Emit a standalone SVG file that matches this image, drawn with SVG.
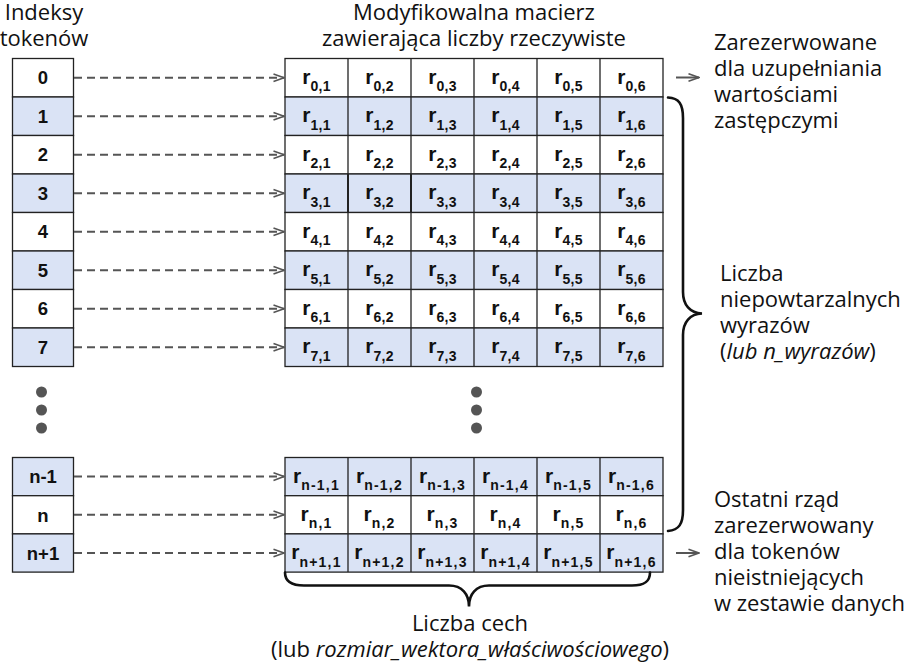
<svg xmlns="http://www.w3.org/2000/svg" width="905" height="662" viewBox="0 0 905 662">
<style>
.bg{fill:#ffffff}
.w{fill:#ffffff;stroke:#222;stroke-width:1.3}
.b{fill:#dae3f5;stroke:#222;stroke-width:1.3}
.sep{stroke:#222;stroke-width:1.3;fill:none}
.idx{font-family:"Liberation Sans",Arial,sans-serif;font-weight:bold;font-size:18.5px;fill:#111;text-anchor:middle}
.cell{font-family:"Liberation Sans",Arial,sans-serif;font-weight:bold;font-size:21px;fill:#111;text-anchor:middle}
.sub{font-size:14px;letter-spacing:0.3px}
.subn{font-size:14px;letter-spacing:1.2px}
.lbl{font-family:"Open Sans","Noto Sans",sans-serif;font-size:22px;fill:#111}
.mid{text-anchor:middle}
.dash{stroke:#555;stroke-width:2;stroke-dasharray:8 5;fill:none}
.solid{stroke:#555;stroke-width:2;fill:none}
.brace{stroke:#111;stroke-width:2.6;fill:none;stroke-linecap:round}
.dot{fill:#555}
</style>
<defs>
<marker id="ah" viewBox="0 0 12 10" refX="11" refY="5" markerWidth="12" markerHeight="10" markerUnits="userSpaceOnUse" orient="auto">
<path d="M0.5,1.2 L11,5 L0.5,8.8" fill="none" stroke="#555" stroke-width="1.6"/>
</marker>
</defs>
<rect class="bg" x="0" y="0" width="905" height="662"/>

<g id="headings">
<text class="lbl mid" x="44" y="20">Indeksy</text>
<text class="lbl mid" x="44" y="46">tokenów</text>
<text class="lbl mid" x="474" y="20">Modyfikowalna macierz</text>
<text class="lbl mid" x="474" y="46">zawierająca liczby rzeczywiste</text>
</g>

<g id="token-indices">
<g id="idx-0"><rect class="w" x="12.5" y="58.5" width="61" height="38.5"/><text class="idx" x="43" y="84.4">0</text></g>
<g id="idx-1"><rect class="b" x="12.5" y="97" width="61" height="38.5"/><text class="idx" x="43" y="122.9">1</text></g>
<g id="idx-2"><rect class="w" x="12.5" y="135.5" width="61" height="38.5"/><text class="idx" x="43" y="161.4">2</text></g>
<g id="idx-3"><rect class="b" x="12.5" y="174" width="61" height="38.5"/><text class="idx" x="43" y="199.9">3</text></g>
<g id="idx-4"><rect class="w" x="12.5" y="212.5" width="61" height="38.5"/><text class="idx" x="43" y="238.4">4</text></g>
<g id="idx-5"><rect class="b" x="12.5" y="251" width="61" height="38.5"/><text class="idx" x="43" y="276.9">5</text></g>
<g id="idx-6"><rect class="w" x="12.5" y="289.5" width="61" height="38.5"/><text class="idx" x="43" y="315.4">6</text></g>
<g id="idx-7"><rect class="b" x="12.5" y="328" width="61" height="38.5"/><text class="idx" x="43" y="353.9">7</text></g>
<g id="idx-n-1"><rect class="b" x="12.5" y="457.5" width="61" height="38.2"/><text class="idx" x="43" y="483.3">n-1</text></g>
<g id="idx-n"><rect class="w" x="12.5" y="495.7" width="61" height="38.2"/><text class="idx" x="43" y="521.5">n</text></g>
<g id="idx-n+1"><rect class="b" x="12.5" y="533.9" width="61" height="38.2"/><text class="idx" x="43" y="559.7">n+1</text></g>
</g>

<g id="dots">
<circle class="dot" cx="41.5" cy="392" r="5.5"/>
<circle class="dot" cx="41.5" cy="410" r="5.5"/>
<circle class="dot" cx="41.5" cy="428" r="5.5"/>
<circle class="dot" cx="476.5" cy="392" r="5.5"/>
<circle class="dot" cx="476.5" cy="410" r="5.5"/>
<circle class="dot" cx="476.5" cy="428" r="5.5"/>
</g>

<g id="matrix">
<g id="row-0"><rect class="w" x="285" y="58.5" width="378" height="38.5"/><path class="sep" d="M348,58.5V97M411,58.5V97M474,58.5V97M537,58.5V97M600,58.5V97"/>
<text class="cell" y="83.75"><tspan x="316.5">r</tspan><tspan class="sub" dy="7.5">0,1</tspan></text>
<text class="cell" y="83.75"><tspan x="379.5">r</tspan><tspan class="sub" dy="7.5">0,2</tspan></text>
<text class="cell" y="83.75"><tspan x="442.5">r</tspan><tspan class="sub" dy="7.5">0,3</tspan></text>
<text class="cell" y="83.75"><tspan x="505.5">r</tspan><tspan class="sub" dy="7.5">0,4</tspan></text>
<text class="cell" y="83.75"><tspan x="568.5">r</tspan><tspan class="sub" dy="7.5">0,5</tspan></text>
<text class="cell" y="83.75"><tspan x="631.5">r</tspan><tspan class="sub" dy="7.5">0,6</tspan></text>
</g>
<g id="row-1"><rect class="b" x="285" y="97" width="378" height="38.5"/><path class="sep" d="M348,97V135.5M411,97V135.5M474,97V135.5M537,97V135.5M600,97V135.5"/>
<text class="cell" y="122.25"><tspan x="316.5">r</tspan><tspan class="sub" dy="7.5">1,1</tspan></text>
<text class="cell" y="122.25"><tspan x="379.5">r</tspan><tspan class="sub" dy="7.5">1,2</tspan></text>
<text class="cell" y="122.25"><tspan x="442.5">r</tspan><tspan class="sub" dy="7.5">1,3</tspan></text>
<text class="cell" y="122.25"><tspan x="505.5">r</tspan><tspan class="sub" dy="7.5">1,4</tspan></text>
<text class="cell" y="122.25"><tspan x="568.5">r</tspan><tspan class="sub" dy="7.5">1,5</tspan></text>
<text class="cell" y="122.25"><tspan x="631.5">r</tspan><tspan class="sub" dy="7.5">1,6</tspan></text>
</g>
<g id="row-2"><rect class="w" x="285" y="135.5" width="378" height="38.5"/><path class="sep" d="M348,135.5V174M411,135.5V174M474,135.5V174M537,135.5V174M600,135.5V174"/>
<text class="cell" y="160.75"><tspan x="316.5">r</tspan><tspan class="sub" dy="7.5">2,1</tspan></text>
<text class="cell" y="160.75"><tspan x="379.5">r</tspan><tspan class="sub" dy="7.5">2,2</tspan></text>
<text class="cell" y="160.75"><tspan x="442.5">r</tspan><tspan class="sub" dy="7.5">2,3</tspan></text>
<text class="cell" y="160.75"><tspan x="505.5">r</tspan><tspan class="sub" dy="7.5">2,4</tspan></text>
<text class="cell" y="160.75"><tspan x="568.5">r</tspan><tspan class="sub" dy="7.5">2,5</tspan></text>
<text class="cell" y="160.75"><tspan x="631.5">r</tspan><tspan class="sub" dy="7.5">2,6</tspan></text>
</g>
<g id="row-3"><rect class="b" x="285" y="174" width="378" height="38.5"/><path class="sep" d="M474,174V212.5M537,174V212.5M600,174V212.5"/><path class="sep" style="stroke-width:2" d="M348,174V212.5M411,174V212.5"/>
<text class="cell" y="199.25"><tspan x="316.5">r</tspan><tspan class="sub" dy="7.5">3,1</tspan></text>
<text class="cell" y="199.25"><tspan x="379.5">r</tspan><tspan class="sub" dy="7.5">3,2</tspan></text>
<text class="cell" y="199.25"><tspan x="442.5">r</tspan><tspan class="sub" dy="7.5">3,3</tspan></text>
<text class="cell" y="199.25"><tspan x="505.5">r</tspan><tspan class="sub" dy="7.5">3,4</tspan></text>
<text class="cell" y="199.25"><tspan x="568.5">r</tspan><tspan class="sub" dy="7.5">3,5</tspan></text>
<text class="cell" y="199.25"><tspan x="631.5">r</tspan><tspan class="sub" dy="7.5">3,6</tspan></text>
</g>
<g id="row-4"><rect class="w" x="285" y="212.5" width="378" height="38.5"/><path class="sep" d="M348,212.5V251M411,212.5V251M474,212.5V251M537,212.5V251M600,212.5V251"/>
<text class="cell" y="237.75"><tspan x="316.5">r</tspan><tspan class="sub" dy="7.5">4,1</tspan></text>
<text class="cell" y="237.75"><tspan x="379.5">r</tspan><tspan class="sub" dy="7.5">4,2</tspan></text>
<text class="cell" y="237.75"><tspan x="442.5">r</tspan><tspan class="sub" dy="7.5">4,3</tspan></text>
<text class="cell" y="237.75"><tspan x="505.5">r</tspan><tspan class="sub" dy="7.5">4,4</tspan></text>
<text class="cell" y="237.75"><tspan x="568.5">r</tspan><tspan class="sub" dy="7.5">4,5</tspan></text>
<text class="cell" y="237.75"><tspan x="631.5">r</tspan><tspan class="sub" dy="7.5">4,6</tspan></text>
</g>
<g id="row-5"><rect class="b" x="285" y="251" width="378" height="38.5"/><path class="sep" d="M348,251V289.5M411,251V289.5M474,251V289.5M537,251V289.5M600,251V289.5"/>
<text class="cell" y="276.25"><tspan x="316.5">r</tspan><tspan class="sub" dy="7.5">5,1</tspan></text>
<text class="cell" y="276.25"><tspan x="379.5">r</tspan><tspan class="sub" dy="7.5">5,2</tspan></text>
<text class="cell" y="276.25"><tspan x="442.5">r</tspan><tspan class="sub" dy="7.5">5,3</tspan></text>
<text class="cell" y="276.25"><tspan x="505.5">r</tspan><tspan class="sub" dy="7.5">5,4</tspan></text>
<text class="cell" y="276.25"><tspan x="568.5">r</tspan><tspan class="sub" dy="7.5">5,5</tspan></text>
<text class="cell" y="276.25"><tspan x="631.5">r</tspan><tspan class="sub" dy="7.5">5,6</tspan></text>
</g>
<g id="row-6"><rect class="w" x="285" y="289.5" width="378" height="38.5"/><path class="sep" d="M348,289.5V328M411,289.5V328M474,289.5V328M537,289.5V328M600,289.5V328"/>
<text class="cell" y="314.75"><tspan x="316.5">r</tspan><tspan class="sub" dy="7.5">6,1</tspan></text>
<text class="cell" y="314.75"><tspan x="379.5">r</tspan><tspan class="sub" dy="7.5">6,2</tspan></text>
<text class="cell" y="314.75"><tspan x="442.5">r</tspan><tspan class="sub" dy="7.5">6,3</tspan></text>
<text class="cell" y="314.75"><tspan x="505.5">r</tspan><tspan class="sub" dy="7.5">6,4</tspan></text>
<text class="cell" y="314.75"><tspan x="568.5">r</tspan><tspan class="sub" dy="7.5">6,5</tspan></text>
<text class="cell" y="314.75"><tspan x="631.5">r</tspan><tspan class="sub" dy="7.5">6,6</tspan></text>
</g>
<g id="row-7"><rect class="b" x="285" y="328" width="378" height="38.5"/><path class="sep" d="M348,328V366.5M411,328V366.5M474,328V366.5M537,328V366.5M600,328V366.5"/>
<text class="cell" y="353.25"><tspan x="316.5">r</tspan><tspan class="sub" dy="7.5">7,1</tspan></text>
<text class="cell" y="353.25"><tspan x="379.5">r</tspan><tspan class="sub" dy="7.5">7,2</tspan></text>
<text class="cell" y="353.25"><tspan x="442.5">r</tspan><tspan class="sub" dy="7.5">7,3</tspan></text>
<text class="cell" y="353.25"><tspan x="505.5">r</tspan><tspan class="sub" dy="7.5">7,4</tspan></text>
<text class="cell" y="353.25"><tspan x="568.5">r</tspan><tspan class="sub" dy="7.5">7,5</tspan></text>
<text class="cell" y="353.25"><tspan x="631.5">r</tspan><tspan class="sub" dy="7.5">7,6</tspan></text>
</g>
<g id="row-n-1"><rect class="b" x="285" y="457.5" width="378" height="38.2"/><path class="sep" d="M348,457.5V495.7M411,457.5V495.7M474,457.5V495.7M537,457.5V495.7M600,457.5V495.7"/>
<text class="cell" y="482.6"><tspan x="316.5">r</tspan><tspan class="subn" dy="7.5">n-1,1</tspan></text>
<text class="cell" y="482.6"><tspan x="379.5">r</tspan><tspan class="subn" dy="7.5">n-1,2</tspan></text>
<text class="cell" y="482.6"><tspan x="442.5">r</tspan><tspan class="subn" dy="7.5">n-1,3</tspan></text>
<text class="cell" y="482.6"><tspan x="505.5">r</tspan><tspan class="subn" dy="7.5">n-1,4</tspan></text>
<text class="cell" y="482.6"><tspan x="568.5">r</tspan><tspan class="subn" dy="7.5">n-1,5</tspan></text>
<text class="cell" y="482.6"><tspan x="631.5">r</tspan><tspan class="subn" dy="7.5">n-1,6</tspan></text>
</g>
<g id="row-n"><rect class="w" x="285" y="495.7" width="378" height="38.2"/><path class="sep" d="M348,495.7V533.9M411,495.7V533.9M474,495.7V533.9M537,495.7V533.9M600,495.7V533.9"/>
<text class="cell" y="520.8"><tspan x="316.5">r</tspan><tspan class="subn" dy="7.5">n,1</tspan></text>
<text class="cell" y="520.8"><tspan x="379.5">r</tspan><tspan class="subn" dy="7.5">n,2</tspan></text>
<text class="cell" y="520.8"><tspan x="442.5">r</tspan><tspan class="subn" dy="7.5">n,3</tspan></text>
<text class="cell" y="520.8"><tspan x="505.5">r</tspan><tspan class="subn" dy="7.5">n,4</tspan></text>
<text class="cell" y="520.8"><tspan x="568.5">r</tspan><tspan class="subn" dy="7.5">n,5</tspan></text>
<text class="cell" y="520.8"><tspan x="631.5">r</tspan><tspan class="subn" dy="7.5">n,6</tspan></text>
</g>
<g id="row-n+1"><rect class="b" x="285" y="533.9" width="378" height="38.2"/><path class="sep" d="M348,533.9V572.1M411,533.9V572.1M474,533.9V572.1M537,533.9V572.1M600,533.9V572.1"/>
<text class="cell" y="559"><tspan x="316.5">r</tspan><tspan class="subn" dy="7.5">n+1,1</tspan></text>
<text class="cell" y="559"><tspan x="379.5">r</tspan><tspan class="subn" dy="7.5">n+1,2</tspan></text>
<text class="cell" y="559"><tspan x="442.5">r</tspan><tspan class="subn" dy="7.5">n+1,3</tspan></text>
<text class="cell" y="559"><tspan x="505.5">r</tspan><tspan class="subn" dy="7.5">n+1,4</tspan></text>
<text class="cell" y="559"><tspan x="568.5">r</tspan><tspan class="subn" dy="7.5">n+1,5</tspan></text>
<text class="cell" y="559"><tspan x="631.5">r</tspan><tspan class="subn" dy="7.5">n+1,6</tspan></text>
</g>
</g>

<g id="connectors">
<path class="dash" marker-end="url(#ah)" d="M74,77.75H284"/>
<path class="dash" marker-end="url(#ah)" d="M74,116.25H284"/>
<path class="dash" marker-end="url(#ah)" d="M74,154.75H284"/>
<path class="dash" marker-end="url(#ah)" d="M74,193.25H284"/>
<path class="dash" marker-end="url(#ah)" d="M74,231.75H284"/>
<path class="dash" marker-end="url(#ah)" d="M74,270.25H284"/>
<path class="dash" marker-end="url(#ah)" d="M74,308.75H284"/>
<path class="dash" marker-end="url(#ah)" d="M74,347.25H284"/>
<path class="dash" marker-end="url(#ah)" d="M74,476.6H284"/>
<path class="dash" marker-end="url(#ah)" d="M74,514.8H284"/>
<path class="dash" marker-end="url(#ah)" d="M74,553H284"/>
<path class="solid" marker-end="url(#ah)" d="M676,77.5H699"/>
<path class="solid" marker-end="url(#ah)" d="M676,553H699"/>
<path class="brace" d="M668,97.5C679,98 683,104 683,118L683,292C683,305 690,313 702,313.5C690,314 683,322 683,335L683,510C683,524 679,530 668,531"/>
<path class="brace" d="M285,572.5C285,582 292,585.5 304,585.5L449,585.5C462,585.5 469,594 469,606.5C469,594 476,585.5 489,585.5L632,585.5C644,585.5 650,582 650,572.5"/>
</g>

<g id="annotations">
<text class="lbl" x="714" y="50">Zarezerwowane</text>
<text class="lbl" x="714" y="76">dla uzupełniania</text>
<text class="lbl" x="714" y="102">wartościami</text>
<text class="lbl" x="714" y="128">zastępczymi</text>
<text class="lbl" x="720" y="281">Liczba</text>
<text class="lbl" x="720" y="307">niepowtarzalnych</text>
<text class="lbl" x="720" y="333">wyrazów</text>
<text class="lbl" x="720" y="359">(<tspan font-style="italic">lub n_wyrazów</tspan>)</text>
<text class="lbl" x="714" y="507">Ostatni rząd</text>
<text class="lbl" x="714" y="533">zarezerwowany</text>
<text class="lbl" x="714" y="559">dla tokenów</text>
<text class="lbl" x="714" y="585">nieistniejących</text>
<text class="lbl" x="714" y="611">w zestawie danych</text>
<text class="lbl mid" x="470" y="631">Liczba cech</text>
<text class="lbl mid" x="470" y="657">(lub <tspan font-style="italic">rozmiar_wektora_właściwościowego</tspan>)</text>
</g>
</svg>
